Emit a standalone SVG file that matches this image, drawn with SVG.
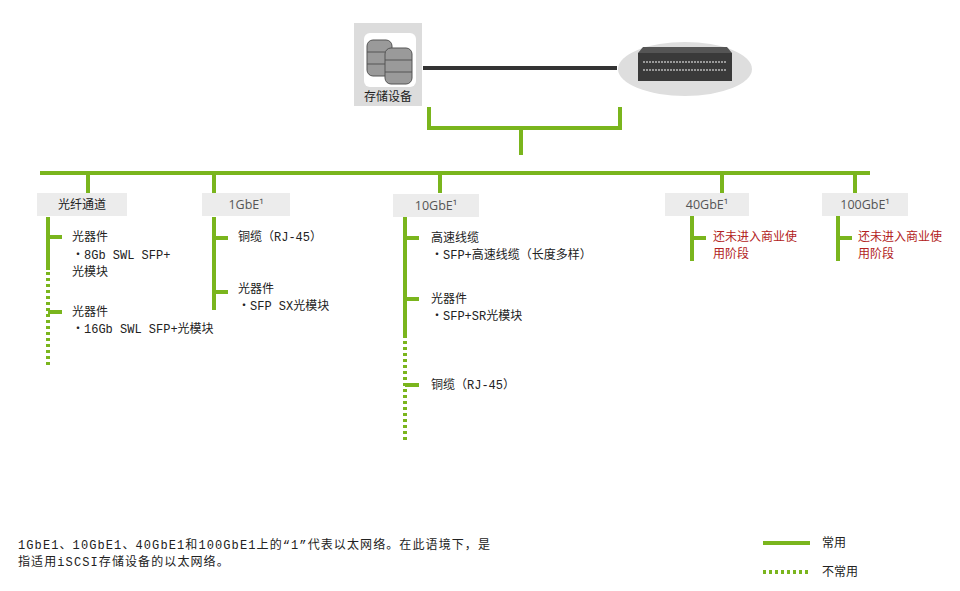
<svg xmlns="http://www.w3.org/2000/svg" width="960" height="591" viewBox="0 0 960 591">
<style>
text{font-family:"Liberation Mono","Noto Sans CJK SC",monospace;font-size:12px;fill:#222}
.hd{font-family:"Open Sans","Noto Sans CJK SC",sans-serif;font-size:12.5px;fill:#555}
.red{fill:#b22222}
.fn{letter-spacing:1.1px}
.g{stroke:#7ab51d;stroke-width:4;fill:none}
.d{stroke:#7ab51d;stroke-width:4;fill:none;stroke-dasharray:3 3}
.box{fill:#ececec}
</style>
<rect width="960" height="591" fill="#fff"/>
<g id="storage">
<rect x="354" y="23" width="68" height="83" fill="#dcdcdc"/>
<rect x="364" y="33" width="52" height="54" rx="6" fill="#fff"/>
<g fill="#9a9a9a" stroke="#555" stroke-width="1">
<rect x="367" y="40" width="25" height="36" rx="6"/>
<rect x="385" y="48" width="27" height="36" rx="6"/>
</g>
<path d="M385 60h27M385 72h27M367 52h18M367 64h18" stroke="#555"/>
<text x="388" y="101" text-anchor="middle" font-size="12.5">存储设备</text>
</g>
<g id="switch">
<ellipse cx="685" cy="69" rx="67" ry="27" fill="#dedede"/>
<rect x="638" y="53" width="94" height="28" fill="#3a3a3a"/>
<path d="M643 62h84M643 70h84" stroke="#999" stroke-width="2" stroke-dasharray="2 1"/>
<polygon points="638,53 732,53 727,47 643,47" fill="#555"/>
</g>
<g id="connectors">
<line x1="423" y1="68" x2="617" y2="68" stroke="#333" stroke-width="4"/>
<path d="M429 107V128H620V107M521 128V155" class="g" stroke-width="6"/>
<path d="M40 173H870M88 173V193M214 173V193M440 173V193M722 173V193M855 173V193" class="g"/>
<path d="M48 217V270M48 237H62M48 312H62" class="g"/>
<path d="M48 272V368" class="d"/>
<path d="M214 217V310M214 238H228M214 292H228" class="g"/>
<path d="M405 217V338M405 238H419M405 299H419M405 385H419" class="g"/>
<path d="M405 341V440" class="d"/>
<path d="M692 216V261M692 238H706" class="g"/>
<path d="M838 216V261M838 238H852" class="g"/>
<path d="M763 543H810" class="g"/>
<path d="M763 572H810" class="d"/>
</g>
<g id="fc"><rect class="box" x="37" y="193" width="90" height="23"/><text x="82" y="209" text-anchor="middle" font-size="12.5">光纤通道</text>
<text x="72" y="241">光器件</text><text x="72" y="259">・8Gb SWL SFP+</text><text x="72" y="276">光模块</text>
<text x="72" y="316">光器件</text><text x="72" y="333">・16Gb SWL SFP+光模块</text></g>
<g id="g1"><rect class="box" x="202" y="193" width="88" height="23"/><text class="hd" x="246" y="209" text-anchor="middle">1GbE¹</text>
<text x="238" y="241">铜缆（RJ-45）</text><text x="238" y="293">光器件</text><text x="238" y="310">・SFP SX光模块</text></g>
<g id="g10"><rect class="box" x="393" y="194" width="86" height="23"/><text class="hd" x="436" y="210" text-anchor="middle">10GbE¹</text>
<text x="431" y="242">高速线缆</text><text x="431" y="259">・SFP+高速线缆（长度多样）</text>
<text x="431" y="303">光器件</text><text x="431" y="320">・SFP+SR光模块</text><text x="431" y="389">铜缆（RJ-45）</text></g>
<g id="g40"><rect class="box" x="665" y="193" width="84" height="23"/><text class="hd" x="707" y="209" text-anchor="middle">40GbE¹</text>
<text class="red" x="713" y="241">还未进入商业使</text><text class="red" x="713" y="258">用阶段</text></g>
<g id="g100"><rect class="box" x="822" y="193" width="86" height="23"/><text class="hd" x="865" y="209" text-anchor="middle">100GbE¹</text>
<text class="red" x="858" y="241">还未进入商业使</text><text class="red" x="858" y="258">用阶段</text></g>
<g id="notes">
<text class="fn" x="18" y="549">1GbE1、10GbE1、40GbE1和100GbE1上的“1”代表以太网络。在此语境下，是</text>
<text class="fn" x="18" y="566">指适用iSCSI存储设备的以太网络。</text>
<text x="822" y="547">常用</text><text x="822" y="576">不常用</text>
</g>
</svg>
